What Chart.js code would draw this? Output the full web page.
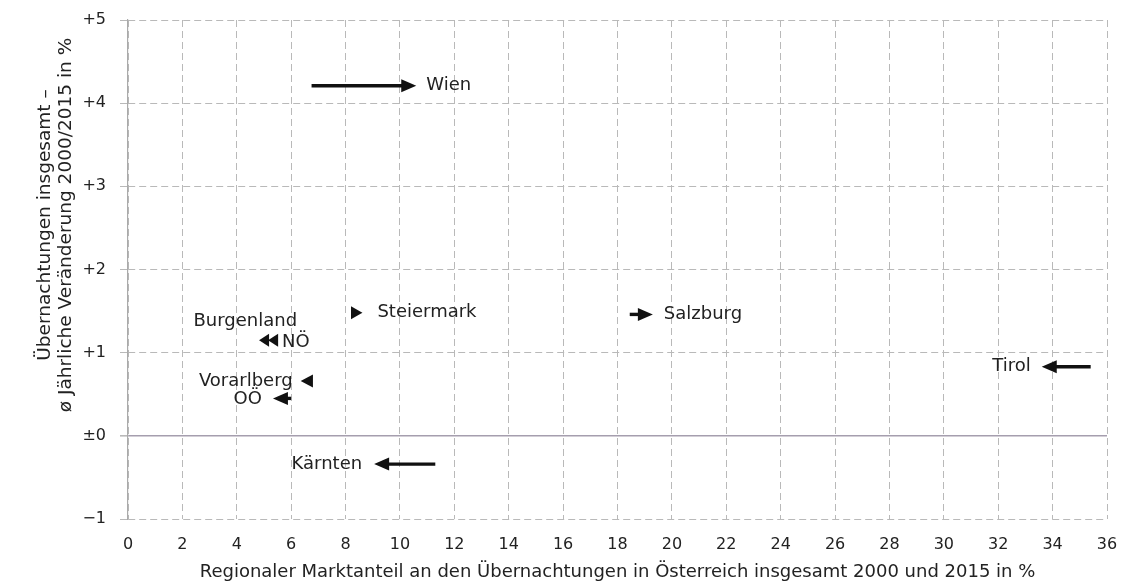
<!DOCTYPE html>
<html>
<head>
<meta charset="utf-8">
<script src="https://cdn.jsdelivr.net/npm/chart.js@4.4.0/dist/chart.umd.min.js"></script>
<style>
  html, body { margin: 0; padding: 0; background: #fff; overflow: hidden; }
  #wrap { width: 1123px; height: 583px; position: relative; }
  canvas { display: block; }
</style>
</head>
<body>
<div id="wrap"><canvas id="chart"></canvas></div>
<script>
// Bundesländer: market share 2000 -> 2015 (x), avg. yearly change (y)
const regions   = ['Wien', 'Steiermark', 'Salzburg', 'Tirol', 'Kärnten', 'Burgenland', 'NÖ', 'Vorarlberg', 'OÖ'];
const share2000 = [6.75, 8.2, 18.45, 35.4, 11.3, 5.15, 5.52, 6.8, 6.0];
const share2015 = [10.6, 8.62, 19.3, 33.6, 9.05, 4.82, 5.15, 6.35, 5.33];
const change    = [4.21, 1.48, 1.46, 0.83, -0.34, 1.15, 1.15, 0.66, 0.45];

const xTicks = { min: 0, max: 36, step: 2 };
const yTicks = { min: -1, max: 5, step: 1 };

const xTitle = 'Regionaler Marktanteil an den Übernachtungen in Österreich insgesamt 2000 und 2015 in %';
const yTitle = ['Übernachtungen insgesamt –', 'ø Jährliche Veränderung 2000/2015 in %'];

// where each name sits relative to its arrow
const labelPlace = {
  'Wien':       { at: 'tip',  align: 'left',  dx: 10,  dy: 0 },
  'Steiermark': { at: 'tip',  align: 'left',  dx: 15,  dy: 0 },
  'Salzburg':   { at: 'tip',  align: 'left',  dx: 11,  dy: 0 },
  'Tirol':      { at: 'tip',  align: 'right', dx: -11, dy: 0 },
  'Kärnten':    { at: 'tip',  align: 'right', dx: -12, dy: 0 },
  'Burgenland': { at: 'tip',  align: 'right', dx: 38,  dy: -19 },
  'NÖ':         { at: 'tail', align: 'left',  dx: 4,   dy: 2 },
  'Vorarlberg': { at: 'tip',  align: 'right', dx: -8,  dy: 0 },
  'OÖ':         { at: 'tip',  align: 'right', dx: -11, dy: 1 }
};

const TEXT = '#222';
const GRID = '#b9b9b9';
const FONT = '"DejaVu Sans", Verdana, sans-serif';

const datasets = regions.map((name, i) => ({
  label: name,
  data: [{ x: share2000[i], y: change[i] }, { x: share2015[i], y: change[i] }],
  showLine: false,
  pointRadius: 0,
  pointHoverRadius: 0
}));

const arrowPlugin = {
  id: 'arrows',
  afterDatasetsDraw(chart) {
    const ctx = chart.ctx;
    const headLen = 15, headHalf = 6.5;
    ctx.save();
    chart.data.datasets.forEach((ds, i) => {
      const meta = chart.getDatasetMeta(i);
      const tail = meta.data[0], tip = meta.data[1];
      const dir = tip.x >= tail.x ? 1 : -1;
      const len = Math.abs(tip.x - tail.x);
      ctx.fillStyle = '#111';
      ctx.strokeStyle = '#111';
      if (len > headLen) {
        ctx.lineWidth = 3.4;
        ctx.beginPath();
        ctx.moveTo(tail.x, tail.y);
        ctx.lineTo(tip.x - dir * (headLen - 2), tip.y);
        ctx.stroke();
      }
      const hl = Math.min(headLen, Math.max(len, 10));
      ctx.beginPath();
      ctx.moveTo(tip.x, tip.y);
      ctx.lineTo(tip.x - dir * hl, tip.y - headHalf);
      ctx.lineTo(tip.x - dir * hl, tip.y + headHalf);
      ctx.closePath();
      ctx.fill();

      const p = labelPlace[ds.label];
      const ref = p.at === 'tip' ? tip : tail;
      ctx.font = '18px ' + FONT;
      ctx.fillStyle = TEXT;
      ctx.textAlign = p.align;
      ctx.textBaseline = 'middle';
      ctx.fillText(ds.label, ref.x + p.dx, ref.y + p.dy);
    });

    // axis titles
    const a = chart.chartArea;
    ctx.font = '18px ' + FONT;
    ctx.fillStyle = TEXT;
    ctx.textAlign = 'center';
    ctx.textBaseline = 'middle';
    ctx.fillText(xTitle, (a.left + a.right) / 2, a.bottom + 53);
    ctx.font = '18.5px ' + FONT;
    const cy = a.top + 205;
    yTitle.forEach((t, k) => {
      ctx.save();
      ctx.translate(45 + k * 21, cy);
      ctx.rotate(-Math.PI / 2);
      ctx.fillText(t, 0, 0);
      ctx.restore();
    });
    ctx.restore();
  }
};

function fmtY(v) {
  if (v > 0) return '+' + v;
  if (v === 0) return '±0';
  return '−' + Math.abs(v);
}

new Chart(document.getElementById('chart'), {
  type: 'scatter',
  data: { datasets },
  options: {
    responsive: true,
    maintainAspectRatio: false,
    animation: false,
    layout: { padding: { left: 0, right: 16, top: 20, bottom: 0 } },
    plugins: { legend: { display: false }, tooltip: { enabled: false } },
    scales: {
      x: {
        type: 'linear',
        min: xTicks.min,
        max: xTicks.max,
        afterFit: s => { s.height = 64; s.paddingLeft = 0; s.paddingRight = 10; },
        ticks: { stepSize: xTicks.step, color: TEXT, font: { family: FONT, size: 16 }, padding: 16, maxRotation: 0 },
        grid: { color: GRID, lineWidth: 1, drawTicks: false },
        border: { display: false, dash: [7, 4] }
      },
      y: {
        type: 'linear',
        min: yTicks.min,
        max: yTicks.max,
        afterFit: s => { s.width = 128; s.paddingTop = 10; s.paddingBottom = 10; },
        ticks: { stepSize: yTicks.step, color: TEXT, font: { family: FONT, size: 16 }, padding: 14, callback: fmtY },
        grid: {
          color: c => (c.tick && c.tick.value === 0 ? '#a59eae' : GRID),
          lineWidth: c => (c.tick && c.tick.value === 0 ? 1.6 : 1),
          tickLength: 8,
          tickColor: GRID
        },
        border: {
          display: true,
          color: '#aaa',
          width: 1.2,
          dash: c => (c.tick && c.tick.value === 0 ? [] : [7, 4])
        }
      }
    }
  },
  plugins: [arrowPlugin]
});
</script>
</body>
</html>
